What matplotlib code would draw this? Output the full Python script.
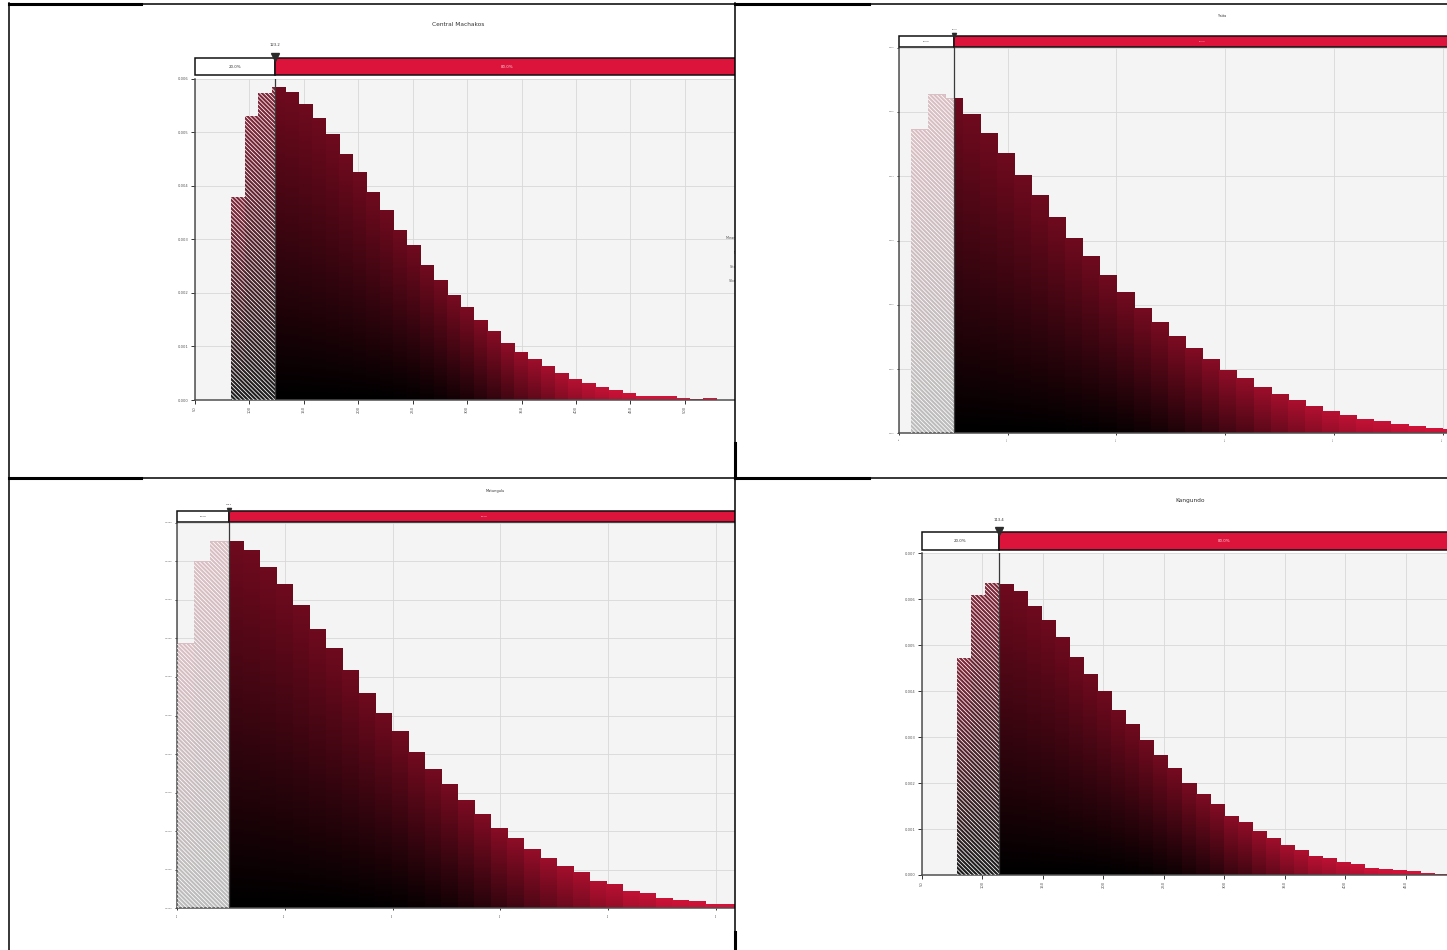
import numpy as np
import matplotlib
matplotlib.use("Agg")
import matplotlib.pyplot as plt
from matplotlib.patches import Rectangle
from matplotlib.lines import Line2D

# per-bin density, first bin edge, bin width and 20th percentile for each sub-county
CENTRAL_DENSITY = [0.00379, 0.00530, 0.00573, 0.00583, 0.00575, 0.00551, 0.00525, 0.00495,
                   0.00459, 0.00424, 0.00388, 0.00353, 0.00316, 0.00288, 0.00252, 0.00224,
                   0.00196, 0.00172, 0.00148, 0.00127, 0.00106, 0.00088, 0.00075, 0.00062,
                   0.00049, 0.00039, 0.00030, 0.00024, 0.00017, 0.00013, 0.00007, 0.00007,
                   0.00006, 0.00002, 0.00001, 0.00002]
CENTRAL_FIRST_EDGE = 83.4
CENTRAL_BIN_WIDTH = 12.38
CENTRAL_P20 = 123.2

YATTA_DENSITY = [0.00472, 0.00527, 0.00520, 0.00495, 0.00466, 0.00435, 0.00400, 0.00369,
                 0.00335, 0.00302, 0.00274, 0.00245, 0.00218, 0.00193, 0.00172, 0.00150,
                 0.00131, 0.00114, 0.00097, 0.00085, 0.00071, 0.00060, 0.00050, 0.00041,
                 0.00033, 0.00027, 0.00021, 0.00018, 0.00013, 0.00010, 0.00007, 0.00005]
YATTA_FIRST_EDGE = 61.2
YATTA_BIN_WIDTH = 15.75
YATTA_P20 = 100.9

MATUNGULU_DENSITY = [0.00343, 0.00449, 0.00475, 0.00475, 0.00463, 0.00441, 0.00419, 0.00392,
                     0.00361, 0.00336, 0.00308, 0.00278, 0.00252, 0.00229, 0.00201, 0.00179,
                     0.00160, 0.00139, 0.00121, 0.00103, 0.00090, 0.00076, 0.00064, 0.00054,
                     0.00046, 0.00035, 0.00030, 0.00021, 0.00019, 0.00012, 0.00010, 0.00008,
                     0.00004, 0.00004]
MATUNGULU_FIRST_EDGE = 100.0
MATUNGULU_BIN_WIDTH = 15.31
MATUNGULU_P20 = 148.0

KANGUNDO_DENSITY = [0.00472, 0.00609, 0.00635, 0.00633, 0.00616, 0.00585, 0.00553, 0.00516,
                    0.00474, 0.00437, 0.00400, 0.00359, 0.00328, 0.00292, 0.00259, 0.00231,
                    0.00200, 0.00176, 0.00154, 0.00128, 0.00115, 0.00094, 0.00080, 0.00065,
                    0.00054, 0.00041, 0.00035, 0.00028, 0.00022, 0.00015, 0.00011, 0.00009,
                    0.00007, 0.00004, 0.00002]
KANGUNDO_FIRST_EDGE = 78.9
KANGUNDO_BIN_WIDTH = 11.61
KANGUNDO_P20 = 113.4

SHARE_LABELS = ["20.0%", "80.0%"]
CENTRAL_STATS = ["Mean ± SD: 198 ± 94", "Median: 177", "Std Error: 2.6571", "Skewness: 1.0842"]

W, H = 1447, 950
CRIMSON = np.array([220, 20, 60]) / 255
plt.rcParams["hatch.linewidth"] = 0.55


def fig_rect(l, t, r, b):
    return [l / W, 1 - b / H, (r - l) / W, (b - t) / H]


def shade(h, hmax, n=48):
    # black at the base, darker red on tall bars, full crimson on the short tail
    r = h / hmax
    top = 0.5 + 0.5 * (1 - r) ** 6
    bot = (1 - r) ** 6
    t = np.linspace(bot, top, n)
    return t[:, None, None] * CRIMSON[None, None, :]


def draw_hist(ax, heights, first_edge, width, split, light):
    hmax = max(heights)
    for i, h in enumerate(heights):
        x0 = first_edge + i * width
        x1 = x0 + width
        img = shade(h, hmax)
        if x0 < split:
            xa = min(x1, split)
            himg = 0.74 + 0.26 * img if light else 0.12 + 0.88 * img
            ax.imshow(himg, extent=(x0, xa, 0, h), origin="lower", aspect="auto",
                      interpolation="bilinear", zorder=2)
            ax.add_patch(Rectangle((x0, 0), xa - x0, h, facecolor="none", edgecolor="white",
                                   lw=0, hatch="\\" * 8, zorder=3))
        if x1 > split:
            xb = max(x0, split)
            ax.imshow(img, extent=(xb, x1, 0, h), origin="lower", aspect="auto",
                      interpolation="bilinear", zorder=2)


PANELS = [
    dict(name="Central Machakos", heights=CENTRAL_DENSITY, edge=CENTRAL_FIRST_EDGE,
         width=CENTRAL_BIN_WIDTH, split=CENTRAL_P20, cell=(9, 3, 735, 478),
         axes=(195, 78.7, 740, 400), bar=(58, 75), title_xy=(458, 24), xlim0=50, ppu=1.0886,
         ymax=0.006, ystep=0.001, yfmt="{:.3f}", xticks=range(50, 501, 50), light=False,
         fs_title=4.2, fs_tick=2.7, fs_bar=2.9, label_off=9.4, ms=6, tick_len=3),
    dict(name="Yatta", heights=YATTA_DENSITY, edge=YATTA_FIRST_EDGE,
         width=YATTA_BIN_WIDTH, split=YATTA_P20, cell=(735, 3, 1447, 478),
         axes=(899, 47.7, 1450, 433.3), bar=(36, 46.7), title_xy=(1222, 16.3), xlim0=50,
         ppu=1.087, ymax=0.006, ystep=0.001, yfmt="{:.3f}", xticks=range(50, 551, 100),
         light=True, fs_title=2.4, fs_tick=1.4, fs_bar=1.5, label_off=5, ms=3, tick_len=1.5),
    dict(name="Matungulu", heights=MATUNGULU_DENSITY, edge=MATUNGULU_FIRST_EDGE,
         width=MATUNGULU_BIN_WIDTH, split=MATUNGULU_P20, cell=(9, 478, 735, 950),
         axes=(177, 522.7, 740, 908.3), bar=(511, 521.7), title_xy=(495.5, 491.3), xlim0=100,
         ppu=1.078, ymax=0.005, ystep=0.0005, yfmt="{:.4f}", xticks=range(100, 601, 100),
         light=True, fs_title=2.6, fs_tick=1.6, fs_bar=1.6, label_off=5, ms=3, tick_len=1.5),
    dict(name="Kangundo", heights=KANGUNDO_DENSITY, edge=KANGUNDO_FIRST_EDGE,
         width=KANGUNDO_BIN_WIDTH, split=KANGUNDO_P20, cell=(735, 478, 1447, 950),
         axes=(922, 553.3, 1450, 875), bar=(532, 550), title_xy=(1190, 500.7), xlim0=50,
         ppu=1.209, ymax=0.007, ystep=0.001, yfmt="{:.3f}", xticks=range(50, 451, 50),
         light=False, fs_title=4.2, fs_tick=2.7, fs_bar=2.9, label_off=8.6, ms=6, tick_len=3),
]

fig = plt.figure(figsize=(W / 100, H / 100), dpi=100)
fig.patch.set_facecolor("white")

for k, p in enumerate(PANELS):
    z = 10 * (k + 1)
    cl, ct, cr, cb = p["cell"]
    bg = fig.add_axes(fig_rect(cl, ct, cr, cb))
    bg.set_zorder(z)
    bg.set_facecolor("white")
    bg.set_xticks([]); bg.set_yticks([])
    for s in bg.spines.values():
        s.set_visible(False)
    bg.text(p["title_xy"][0] / W, 1 - p["title_xy"][1] / H, p["name"], transform=fig.transFigure,
            ha="center", va="center", fontsize=p["fs_title"], color="#333333")

    al, at, ar, ab = p["axes"]
    xlim = (p["xlim0"], p["xlim0"] + (ar - al) / p["ppu"])
    ax = fig.add_axes(fig_rect(al, at, ar, ab))
    ax.set_zorder(z + 1)
    ax.set_facecolor("#f4f4f4")
    draw_hist(ax, p["heights"], p["edge"], p["width"], p["split"], p["light"])
    ax.axvline(p["split"], color="#3a3a3a", lw=0.9, zorder=4)
    ax.set_xlim(*xlim)
    ax.set_ylim(0, p["ymax"])
    ax.set_xticks(list(p["xticks"]))
    ax.set_xticklabels([str(v) for v in p["xticks"]])
    yt = np.arange(0, p["ymax"] + p["ystep"] / 2, p["ystep"])
    ax.set_yticks(yt)
    ax.set_yticklabels([p["yfmt"].format(v) for v in yt])
    ax.set_axisbelow(True)
    ax.grid(True, color="#d8d8d8", lw=0.6)
    ax.tick_params(labelsize=p["fs_tick"], length=p["tick_len"], width=0.7, colors="#333333",
                   labelcolor="#555555", pad=1.5)
    ax.tick_params(axis="x", labelrotation=90)
    for side in ("top", "right"):
        ax.spines[side].set_visible(False)
    for side in ("left", "bottom"):
        ax.spines[side].set_color("#505050")
        ax.spines[side].set_linewidth(1.1)

    bt, bb = p["bar"]
    bax = fig.add_axes(fig_rect(al, bt, ar, bb))
    bax.set_zorder(z + 2)
    bax.set_xlim(*xlim)
    bax.set_ylim(0, 1)
    bax.axis("off")
    bax.add_patch(Rectangle((xlim[0], 0), p["split"] - xlim[0], 1, facecolor="white",
                            edgecolor="#111111", lw=1.1, clip_on=False))
    bax.add_patch(Rectangle((p["split"], 0), xlim[1] - p["split"], 1, facecolor="#dc143c",
                            edgecolor="#111111", lw=1.1, clip_on=False))
    bax.text((xlim[0] + p["split"]) / 2, 0.5, SHARE_LABELS[0], ha="center", va="center",
             fontsize=p["fs_bar"], color="#333333")
    bax.text((p["split"] + xlim[1]) / 2, 0.5, SHARE_LABELS[1], ha="center", va="center",
             fontsize=p["fs_bar"], color="#f7d0d6")
    bax.plot([p["split"]], [1.08], marker="v", ms=p["ms"], color="#2b2b2b", clip_on=False,
             zorder=5)
    bax.annotate(f"{p['split']:.1f}", xy=(p["split"], 1), xycoords="data",
                 xytext=(0, p["label_off"]), textcoords="offset points", ha="center",
                 va="center", fontsize=p["fs_bar"] * 0.93, color="#333333", annotation_clip=False)

    if p["name"] == "Central Machakos":
        for line, y in zip(CENTRAL_STATS, (238, 253, 267, 281)):
            ax.text(745 / W, 1 - y / H, line, transform=fig.transFigure, ha="center",
                    va="center", fontsize=2.5, color="#555555", clip_on=False)

# cell frames
thin = [((9, 3.5), (1447, 3.5)), ((9, 478.5), (1447, 478.5)),
        ((9.4, 3), (9.4, 950)), ((735, 3), (735, 950))]
thick = [((9, 3.5), (141, 3.5)), ((735, 3.5), (869, 3.5)), ((9, 478.5), (141, 478.5)),
         ((735, 478.5), (869, 478.5)), ((735, 443), (735, 478)), ((735, 932), (735, 950))]
for segs, lw in ((thin, 1.1), (thick, 2.2)):
    for (x0, y0), (x1, y1) in segs:
        fig.add_artist(Line2D([x0 / W, x1 / W], [1 - y0 / H, 1 - y1 / H], color="black",
                              lw=lw, transform=fig.transFigure, zorder=100))

fig.savefig("out.png", dpi=100, facecolor="white")
